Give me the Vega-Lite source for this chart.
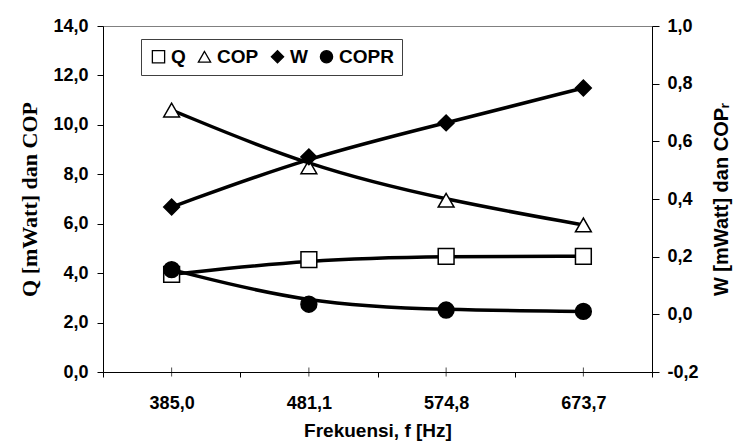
{
  "$schema": "https://vega.github.io/schema/vega-lite/v6.json",
  "width": 549,
  "height": 346,
  "autosize": {"type": "none"},
  "padding": {"left": 103, "top": 26, "right": 88, "bottom": 75},
  "background": "white",
  "config": {
    "font": "Liberation Sans",
    "view": {"stroke": "#808080", "strokeWidth": 1},
    "axis": {
      "labelFont": "Liberation Sans",
      "labelFontWeight": "bold",
      "labelColor": "black",
      "titleColor": "black",
      "titleFont": "Liberation Sans",
      "titleFontWeight": "bold",
      "domainColor": "black",
      "tickColor": "black",
      "domainWidth": 1,
      "tickWidth": 1,
      "grid": false
    },
    "legend": {
      "orient": "none", "legendX": 38, "legendY": 13, "direction": "horizontal",
      "strokeColor": "#404040", "fillColor": "white", "padding": 8,
      "labelFontSize": 19, "labelFont": "Liberation Sans", "labelFontWeight": "bold", "labelColor": "black",
      "symbolSize": 150, "symbolStrokeWidth": 1.3, "labelOffset": 3, "columnPadding": 9
    }
  },
  "data": {
    "values": [
      {"f": "385,0", "series": "Q", "value": 3.95},
      {"f": "481,1", "series": "Q", "value": 4.55},
      {"f": "574,8", "series": "Q", "value": 4.68},
      {"f": "673,7", "series": "Q", "value": 4.68},
      {"f": "385,0", "series": "COP", "value": 10.6},
      {"f": "481,1", "series": "COP", "value": 8.3},
      {"f": "574,8", "series": "COP", "value": 6.95},
      {"f": "673,7", "series": "COP", "value": 5.95},
      {"f": "385,0", "series": "W", "value": 0.372},
      {"f": "481,1", "series": "W", "value": 0.546},
      {"f": "574,8", "series": "W", "value": 0.664},
      {"f": "673,7", "series": "W", "value": 0.785},
      {"f": "385,0", "series": "COPR", "value": 0.155},
      {"f": "481,1", "series": "COPR", "value": 0.035},
      {"f": "574,8", "series": "COPR", "value": 0.015},
      {"f": "673,7", "series": "COPR", "value": 0.01}
    ]
  },
  "encoding": {
    "x": {
      "field": "f",
      "type": "ordinal",
      "sort": null,
      "scale": {"type": "band", "paddingInner": 0, "paddingOuter": 0},
      "axis": {
        "title": "Frekuensi, f [Hz]",
        "titleFontSize": 19,
        "labelFontSize": 18,
        "labelAngle": 0,
        "tickBand": "extent",
        "tickSize": 5,
        "labelPadding": 17,
        "titlePadding": 9
      }
    }
  },
  "layer": [
    {
      "transform": [{"filter": "datum.series === 'Q' || datum.series === 'COP'"}],
      "encoding": {
        "y": {
          "field": "value",
          "type": "quantitative",
          "scale": {"domain": [0, 14], "nice": false, "zero": false},
          "axis": {
            "title": "Q [mWatt] dan COP",
            "titleFont": "Liberation Serif",
            "titleFontSize": 22,
            "titlePadding": 11,
            "values": [0, 2, 4, 6, 8, 10, 12, 14],
            "labelExpr": "replace(replace(format(datum.value, '.1f'), '.', ','), '\u2212', '-')",
            "labelFontSize": 18,
            "tickSize": 6,
            "labelPadding": 9
          }
        }
      },
      "layer": [
        {
          "mark": {"type": "line", "interpolate": "basis", "color": "black", "strokeWidth": 3.5},
          "encoding": {"detail": {"field": "series", "type": "nominal"}}
        },
        {
          "mark": {"type": "point", "filled": false, "size": 250, "strokeWidth": 1.5, "opacity": 1},
          "encoding": {
            "shape": {
              "field": "series", "type": "nominal", "title": null,
              "scale": {"domain": ["Q", "COP", "W", "COPR"], "range": ["square", "triangle-up", "diamond", "circle"]}
            },
            "fill": {
              "field": "series", "type": "nominal", "title": null,
              "scale": {"domain": ["Q", "COP", "W", "COPR"], "range": ["white", "white", "black", "black"]}
            },
            "stroke": {
              "field": "series", "type": "nominal", "title": null,
              "scale": {"domain": ["Q", "COP", "W", "COPR"], "range": ["black", "black", "black", "black"]}
            }
          }
        },
        {
          "transform": [{"filter": "datum.series === 'Q'"}],
          "mark": {"type": "tick", "orient": "vertical", "size": 9, "thickness": 1, "color": "black"},
          "encoding": {"y": {"datum": 0}}
        }
      ]
    },
    {
      "transform": [{"filter": "datum.series === 'W' || datum.series === 'COPR'"}],
      "encoding": {
        "y": {
          "field": "value",
          "type": "quantitative",
          "scale": {"domain": [-0.2, 1.0], "nice": false, "zero": false},
          "axis": {
            "orient": "right",
            "title": "W [mWatt] dan COPᵣ",
            "titleFontSize": 20,
            "titleAngle": 270,
            "titleBaseline": "top",
            "titlePadding": 13,
            "values": [-0.2, 0, 0.2, 0.4, 0.6, 0.8, 1.0],
            "labelExpr": "replace(replace(format(datum.value, '.1f'), '.', ','), '\u2212', '-')",
            "labelFontSize": 18,
            "tickSize": 7,
            "labelPadding": 8
          }
        }
      },
      "layer": [
        {
          "mark": {"type": "line", "interpolate": "basis", "color": "black", "strokeWidth": 3.5},
          "encoding": {"detail": {"field": "series", "type": "nominal"}}
        },
        {
          "mark": {"type": "point", "filled": false, "size": 250, "strokeWidth": 1.5, "opacity": 1},
          "encoding": {
            "shape": {"field": "series", "type": "nominal", "title": null},
            "fill": {"field": "series", "type": "nominal", "title": null},
            "stroke": {"field": "series", "type": "nominal", "title": null}
          }
        }
      ]
    }
  ],
  "resolve": {"scale": {"y": "independent"}}
}
